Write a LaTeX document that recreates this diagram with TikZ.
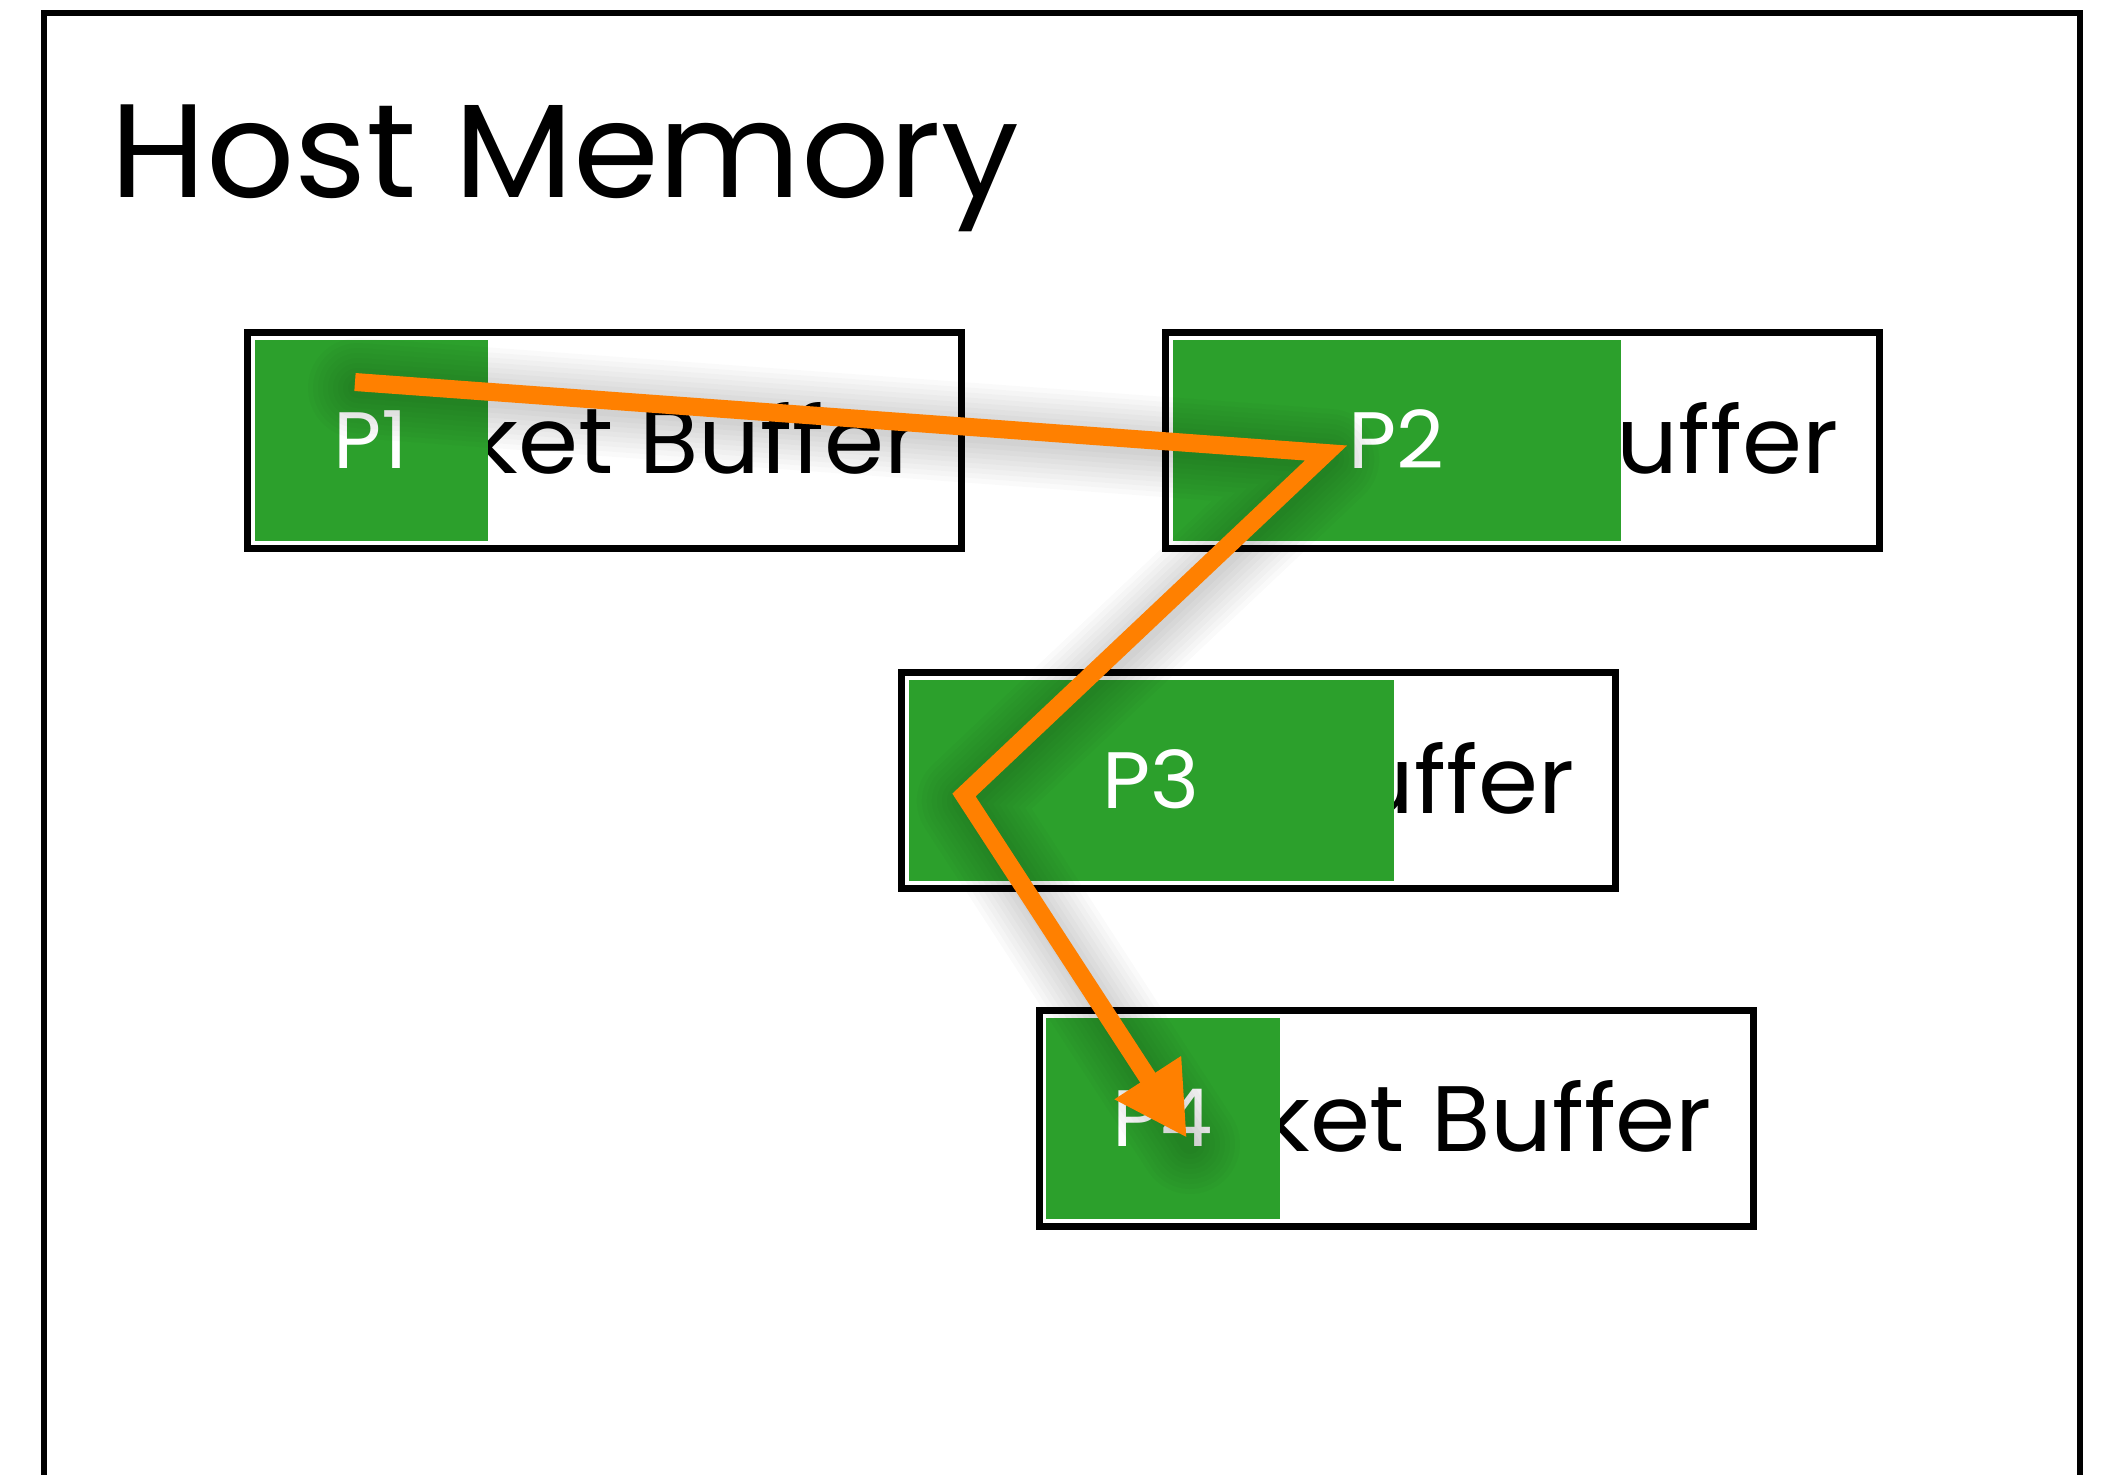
\documentclass[tikz,border=0pt]{standalone}
\usepackage{fontspec}
\setmainfont{Poppins}[FakeStretch=1.04]
\usetikzlibrary{arrows.meta}
\definecolor{pktgreen}{HTML}{2CA02C}
\definecolor{pathorange}{HTML}{FF8000}

\begin{document}
\begin{tikzpicture}[x=0.5pt,y=-0.5pt,
  frame/.style={draw=black,line width=3pt},
  bufbox/.style={draw=black,fill=white,line width=3.5pt,inner sep=0pt,outer sep=0pt,
    minimum width=357pt,minimum height=108pt,anchor=north west},
  bufname/.style={anchor=base,inner sep=0pt,font=\fontsize{46.5}{50}\selectfont},
  slot/.style={fill=pktgreen,inner sep=0pt,outer sep=0pt,minimum height=100.5pt,anchor=north west},
  slotlabel/.style={anchor=base,inner sep=0pt,text=white,font=\fontsize{40}{44}\selectfont},
  hop/.style={draw=pathorange,line width=9pt,line join=miter,-{Triangle[length=36pt,width=37pt]}},
  haze/.style={draw=black,line join=round,line cap=round,opacity=0.02,
    transform canvas={xshift=1.5pt,yshift=-3pt}}
]
\clip (0,0) rectangle (2105,1474);
\fill[white] (0,0) rectangle (2105,1474);

% host memory frame (open at the bottom edge of the page)
\draw[frame] (44,1500) -- (44,13) -- (2080,13) -- (2080,1500);
\node[anchor=base west,inner sep=0pt,font=\fontsize{66.5}{70}\selectfont] (title) at (110,197) {Host Memory};

% packet buffers
\node[bufbox] (b1) at (247.5,332.5) {};
\node[bufbox] (b2) at (1165.5,332.5) {};
\node[bufbox] (b3) at (901.5,672.5) {};
\node[bufbox] (b4) at (1039,1010.5) {};
\foreach \b in {1,2,3,4}
  \node[bufname] (t\b) at ([yshift=-16.5pt]b\b.center) {Packet Buffer};

% packets occupying the buffers
\node[slot,minimum width=116.5pt] (g1) at ([shift={(7,7.5)}]b1.north west) {};
\node[slot,minimum width=224pt]   (g2) at ([shift={(7,7.5)}]b2.north west) {};
\node[slot,minimum width=242.5pt] (g3) at ([shift={(7,7.5)}]b3.north west) {};
\node[slot,minimum width=117pt]   (g4) at ([shift={(7,7.5)}]b4.north west) {};
\foreach \b in {1,2,3,4}
  \node[slotlabel] (p\b) at ([yshift=-14pt]g\b.center) {P\b};

% traversal path with a soft shadow underneath
\coordinate (a1) at (355,382);
\coordinate (a2) at (1326,453);
\coordinate (a3) at (964,795);
\coordinate (a4) at (1187,1138);
\foreach \w in {10,15,...,50}
  \draw[haze,line width=\w pt] (a1) -- (a2) -- (a3) -- (a4);
\draw[hop] (a1) -- (a2) -- (a3) -- (a4);
\end{tikzpicture}
\end{document}
